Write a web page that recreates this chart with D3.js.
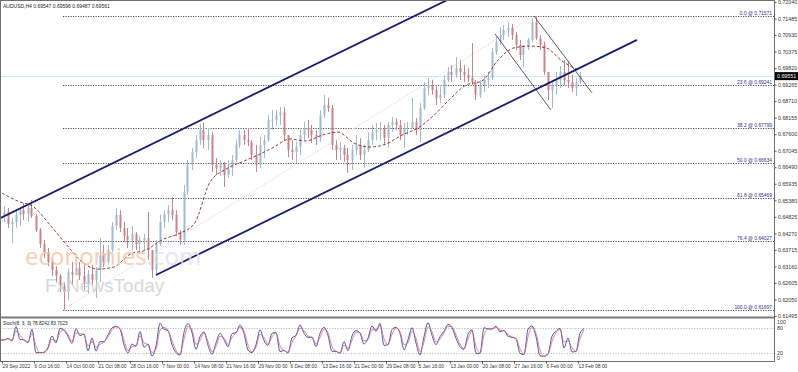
<!DOCTYPE html>
<html><head><meta charset="utf-8">
<script src="https://cdn.jsdelivr.net/npm/d3@7"></script>
<style>html,body{margin:0;padding:0;background:#fff;overflow:hidden}svg{display:block;font-family:"Liberation Sans",Arial,sans-serif}</style>
</head><body><svg id="c" width="798" height="372"></svg>
<script>
// ---------------- DATA ----------------
const symbolTitle = "AUDUSD,H4";
const headerOHLC = [0.69547, 0.69596, 0.69487, 0.69561];
const bidPrice = 0.69551;
const barsPerCandle = 4;           // each drawn candle groups 4 H4 bars
const firstOpen = 0.6489;
const candleHigh = [
0.6519,0.6512,0.6479,0.6505,0.6515,0.6529,0.6525,0.6539,0.6492,0.6445,
0.6405,0.6378,0.6344,0.6317,0.6290,0.6263,0.6310,0.6331,0.6327,0.6331,
0.6321,0.6304,0.6321,0.6314,0.6411,0.6388,0.6388,0.6465,0.6512,0.6505,
0.6465,0.6445,0.6452,0.6431,0.6418,0.6425,0.6499,0.6371,0.6405,0.6489,
0.6505,0.6522,0.6549,0.6505,0.6438,0.6589,0.6673,0.6714,0.6757,0.6794,
0.6798,0.6781,0.6767,0.6680,0.6673,0.6667,0.6673,0.6690,0.6740,0.6774,
0.6774,0.6781,0.6740,0.6724,0.6751,0.6757,0.6824,0.6841,0.6841,0.6851,
0.6851,0.6757,0.6740,0.6734,0.6774,0.6801,0.6808,0.6791,0.6774,0.6841,
0.6892,0.6882,0.6858,0.6740,0.6734,0.6724,0.6714,0.6724,0.6757,0.6747,
0.6724,0.6767,0.6791,0.6798,0.6801,0.6791,0.6801,0.6818,0.6814,0.6808,
0.6798,0.6801,0.6882,0.6814,0.6865,0.6935,0.6949,0.6942,0.6925,0.6919,
0.6959,0.6985,0.6992,0.7019,0.7009,0.6992,0.6982,0.7066,0.6942,0.6942,
0.6956,0.6969,0.7050,0.7087,0.7120,0.7127,0.7137,0.7130,0.7103,0.7077,
0.7060,0.7083,0.7150,0.7157,0.7093,0.7070,0.6969,0.6942,0.6969,0.6989,
0.7009,0.7003,0.6959,0.6949,0.6969];
const candleLow = [
0.6465,0.6445,0.6394,0.6445,0.6452,0.6472,0.6465,0.6479,0.6431,0.6378,
0.6344,0.6317,0.6284,0.6263,0.6230,0.6170,0.6203,0.6253,0.6287,0.6270,
0.6237,0.6226,0.6253,0.6210,0.6263,0.6314,0.6321,0.6364,0.6438,0.6431,
0.6398,0.6378,0.6371,0.6371,0.6364,0.6371,0.6337,0.6277,0.6284,0.6384,
0.6445,0.6465,0.6472,0.6418,0.6388,0.6388,0.6556,0.6640,0.6680,0.6724,
0.6714,0.6707,0.6633,0.6623,0.6620,0.6583,0.6613,0.6620,0.6667,0.6714,
0.6724,0.6720,0.6673,0.6633,0.6646,0.6680,0.6734,0.6774,0.6788,0.6791,
0.6740,0.6683,0.6673,0.6663,0.6690,0.6740,0.6747,0.6730,0.6724,0.6734,
0.6814,0.6834,0.6707,0.6673,0.6673,0.6667,0.6630,0.6640,0.6690,0.6673,
0.6646,0.6700,0.6724,0.6740,0.6740,0.6724,0.6714,0.6767,0.6774,0.6740,
0.6714,0.6757,0.6791,0.6757,0.6734,0.6841,0.6892,0.6892,0.6858,0.6865,
0.6882,0.6935,0.6935,0.6949,0.6942,0.6935,0.6935,0.6925,0.6875,0.6882,
0.6902,0.6915,0.6942,0.7026,0.7060,0.7077,0.7087,0.7077,0.7043,0.7009,
0.6985,0.7043,0.7070,0.7077,0.7043,0.6959,0.6875,0.6848,0.6892,0.6915,
0.6925,0.6915,0.6902,0.6888,0.6929];
const candleClose = [
0.6499,0.6458,0.6465,0.6489,0.6505,0.6492,0.6512,0.6485,0.6438,0.6391,
0.6364,0.6331,0.6304,0.6284,0.6250,0.6230,0.6297,0.6287,0.6310,0.6284,
0.6257,0.6290,0.6270,0.6304,0.6354,0.6331,0.6371,0.6452,0.6489,0.6445,
0.6418,0.6405,0.6425,0.6391,0.6405,0.6411,0.6371,0.6304,0.6391,0.6465,
0.6492,0.6505,0.6489,0.6431,0.6405,0.6566,0.6657,0.6700,0.6740,0.6774,
0.6740,0.6757,0.6657,0.6646,0.6660,0.6623,0.6646,0.6673,0.6724,0.6757,
0.6740,0.6734,0.6690,0.6657,0.6724,0.6740,0.6808,0.6808,0.6824,0.6834,
0.6757,0.6707,0.6700,0.6717,0.6757,0.6781,0.6774,0.6757,0.6747,0.6824,
0.6858,0.6848,0.6724,0.6707,0.6714,0.6690,0.6673,0.6707,0.6724,0.6690,
0.6707,0.6740,0.6767,0.6774,0.6781,0.6747,0.6791,0.6801,0.6791,0.6757,
0.6781,0.6781,0.6801,0.6774,0.6848,0.6915,0.6925,0.6909,0.6882,0.6892,
0.6942,0.6969,0.6959,0.6982,0.6969,0.6959,0.6949,0.6935,0.6892,0.6925,
0.6942,0.6949,0.7036,0.7070,0.7093,0.7110,0.7117,0.7093,0.7060,0.7026,
0.7056,0.7077,0.7137,0.7083,0.7060,0.6969,0.6909,0.6925,0.6942,0.6969,
0.6942,0.6935,0.6915,0.6935,0.6956];
const maStep = 16;                 // moving average read every 16 bars
const maValues = [
0.6562,0.6535,0.6515,0.6455,0.6391,0.6331,0.6307,0.6314,0.6357,0.6371,
0.6405,0.6425,0.6458,0.6599,0.6643,0.6667,0.6690,0.6717,0.6744,0.6737,
0.6757,0.6767,0.6730,0.6717,0.6727,0.6757,0.6781,0.6824,0.6878,0.6925,
0.6939,0.7009,0.7050,0.7056,0.7050,0.7006,0.6976];
const priceTicks = [0.72040,0.71485,0.70930,0.70375,0.69820,0.69265,0.68710,0.68155,0.67600,0.67045,
0.66490,0.65935,0.65380,0.64825,0.64270,0.63715,0.63160,0.62605,0.62050,0.61495];
const timeLabelStep = 32;
const timeLabels = ["29 Sep 2022","6 Oct 16:00","14 Oct 00:00","21 Oct 08:00","28 Oct 16:00","7 Nov 00:00",
"14 Nov 08:00","21 Nov 16:00","29 Nov 00:00","6 Dec 08:00","13 Dec 16:00","21 Dec 00:00","29 Dec 08:00",
"5 Jan 16:00","13 Jan 00:00","20 Jan 08:00","27 Jan 16:00","6 Feb 00:00","13 Feb 08:00"];
const fibLevels = [0, 23.6, 38.2, 50, 61.8, 76.4, 100];
const fibHigh = 0.71571, fibHighBar = 532;
const fibLow = 0.61697, fibLowBar = 61;
const upperChannel = [[-2, 0.6478], [446, 0.7212]];
const lowerChannel = [[154, 0.6287], [635, 0.7077]];
const downLineA = [[532, 0.7157], [590, 0.6899]];
const downLineB = [[493, 0.7097], [549, 0.6841]];
const stochStep = 4;
const stochMain = [
51.6,51.6,55.6,49.2,83.6,53.2,51.6,45.2,77.2,21.2,21.2,22.0,34.0,61.2,44.4,79.6,74.8,60.4,43.6,78.8,
62.0,66.0,25.2,56.4,25.2,47.6,47.6,64.4,80.4,84.4,77.2,39.6,20.4,42.0,36.4,71.6,34.0,42.0,13.2,37.2,
91.6,77.2,74.0,40.4,21.2,15.6,70.0,90.8,69.2,29.2,59.6,70.8,38.8,17.2,44.4,67.6,52.4,35.6,66.8,69.2,
87.6,66.8,27.6,21.2,40.4,75.6,50.0,38.8,67.6,69.2,23.6,26.8,20.4,56.4,62.8,87.6,67.6,58.0,58.0,35.6,
67.6,82.0,62.8,24.4,24.4,19.6,47.6,26.0,61.2,74.0,67.6,42.0,56.4,85.2,72.4,91.6,38.8,40.4,76.4,82.0,
67.6,28.4,52.4,81.2,44.4,15.6,59.6,93.2,62.8,40.4,59.6,72.4,89.2,81.2,55.6,35.6,29.2,65.2,75.6,19.6,
19.6,81.2,78.0,78.0,84.4,71.6,74.8,60.4,58.0,54.8,19.6,16.4,77.2,85.2,59.6,14.0,12.4,18.8,60.4,72.4,
79.6,32.4,56.4,22.8,24.4,67.6,78.8];
const stochLevels = [20, 80];
const stochAxisLabels = [100, 80, 20, 0];
const stochTitle = "Stoch(8, 3, 3) 78.8242 83.7023";

// ---------------- LAYOUT ----------------
const svg = d3.select('#c');
const axisX = 774, mainBottom = 317, stTop = 319, stBottom = 361;
const x = d3.scaleLinear().domain([0, 772]).range([2, 774]);
const y = d3.scaleLinear().domain([0.61460, 0.72108]).range([mainBottom, 0]);
const ys = d3.scaleLinear().domain([0, 100]).range([361.5, 319.8]);
const bull = '#a2bacb', bear = '#c8848b';

svg.append('rect').attr('width', 798).attr('height', 372).attr('fill', '#fff');
const defs = svg.append('defs');
defs.append('clipPath').attr('id', 'cm').append('rect').attr('x', 1).attr('y', 1).attr('width', axisX - 1).attr('height', mainBottom - 1);
defs.append('clipPath').attr('id', 'cs').append('rect').attr('x', 1).attr('y', stTop).attr('width', axisX - 1).attr('height', stBottom - stTop);

const gm = svg.append('g').attr('clip-path', 'url(#cm)');

// bid line
gm.append('line').attr('x1', 0).attr('x2', axisX).attr('y1', Math.round(y(bidPrice)) + 0.5).attr('y2', Math.round(y(bidPrice)) + 0.5)
  .attr('stroke', '#cfe6ee').attr('stroke-width', 1);

// fibonacci levels
const fibPrice = lv => fibHigh - (fibHigh - fibLow) * lv / 100;
fibLevels.forEach(lv => {
  const yy = Math.round(y(fibPrice(lv))) + 0.5;
  gm.append('line').attr('x1', x(fibLowBar)).attr('x2', axisX).attr('y1', yy).attr('y2', yy)
    .attr('stroke', '#3a3a3a').attr('stroke-width', 0.9).attr('stroke-dasharray', '1.2,1.3');
  gm.append('text').attr('x', axisX - 2).attr('y', yy - 1.6).attr('text-anchor', 'end')
    .attr('font-size', 4.9).attr('fill', '#2b2f8a').text(`${lv.toFixed(1)} @ ${fibPrice(lv).toFixed(5)}`);
});
// fibonacci anchor diagonal
gm.append('line').attr('x1', x(fibLowBar)).attr('y1', y(fibLow)).attr('x2', x(fibHighBar)).attr('y2', y(fibHigh))
  .attr('stroke', '#e2d4dc').attr('stroke-width', 1).attr('stroke-dasharray', '1.5,1.5');

// candles
const candles = candleClose.map((c, i) => {
  const o = i === 0 ? firstOpen : candleClose[i - 1];
  return { i, o, c, h: Math.max(candleHigh[i], o, c), l: Math.min(candleLow[i], o, c) };
});
const cx = d => Math.round(x(d.i * barsPerCandle + 1.5));
gm.selectAll('.wick').data(candles).join('line')
  .attr('x1', d => cx(d) + 0.5).attr('x2', d => cx(d) + 0.5)
  .attr('y1', d => y(d.h)).attr('y2', d => y(d.l))
  .attr('stroke', d => d.c >= d.o ? bull : bear).attr('stroke-width', 1);
gm.selectAll('.body').data(candles).join('rect')
  .attr('x', d => cx(d) - 0.5).attr('width', 2)
  .attr('y', d => y(Math.max(d.o, d.c))).attr('height', d => Math.max(1, Math.abs(y(d.o) - y(d.c))))
  .attr('fill', d => d.c >= d.o ? bull : bear);

// moving average
gm.append('path').datum(maValues).attr('fill', 'none').attr('stroke', '#7b2c2c').attr('stroke-width', 0.9)
  .attr('stroke-dasharray', '3,2')
  .attr('d', d3.line().x((d, i) => x(i * maStep)).y(d => y(d)).curve(d3.curveMonotoneX));

// trend lines
const tl = (pts, w, col) => gm.append('line')
  .attr('x1', x(pts[0][0])).attr('y1', y(pts[0][1])).attr('x2', x(pts[1][0])).attr('y2', y(pts[1][1]))
  .attr('stroke', col).attr('stroke-width', w);
tl(upperChannel, 1.8, '#1b1b6b');
tl(lowerChannel, 1.8, '#1b1b6b');
tl(downLineA, 0.8, '#2a2a55');
tl(downLineB, 0.8, '#2a2a55');

// watermark
const wm = svg.append('g').attr('opacity', 0.8);
const t1 = wm.append('text').attr('x', 25).attr('y', 265).attr('font-size', 24).attr('font-family', '"Open Sans","Liberation Sans",sans-serif');
t1.append('tspan').attr('fill', '#f4c29e').text('economies');
t1.append('tspan').attr('fill', '#dde1e8').text('.com');
wm.append('text').attr('x', 45).attr('y', 292).attr('font-size', 19).attr('fill', '#cfcfcf')
  .attr('font-family', '"Liberation Sans",sans-serif').text('FxNewsToday');

// title
svg.append('text').attr('x', 3).attr('y', 8).attr('font-size', 5).attr('fill', '#222')
  .text(`${symbolTitle}  ${headerOHLC.map(v => v.toFixed(5)).join(' ')}`);

// stochastic panel
const gs = svg.append('g').attr('clip-path', 'url(#cs)');
stochLevels.forEach(lv => {
  gs.append('line').attr('x1', 0).attr('x2', axisX).attr('y1', Math.round(ys(lv)) + 0.5).attr('y2', Math.round(ys(lv)) + 0.5)
    .attr('stroke', '#a8a8a8').attr('stroke-width', 0.8).attr('stroke-dasharray', '1.2,1.5');
});
const stX = (d, i) => x(i * stochStep - 2);
const stochSignal = stochMain.map((v, i) => i === 0 ? v : 0.7 * v + 0.3 * stochMain[i - 1]);
gs.append('path').datum(stochMain).attr('fill', 'none').attr('stroke', '#40449a').attr('stroke-width', 0.9)
  .attr('d', d3.line().x(stX).y(d => ys(d)).curve(d3.curveMonotoneX));
gs.append('path').datum(stochSignal).attr('fill', 'none').attr('stroke', '#d2687e').attr('stroke-width', 0.8)
  .attr('d', d3.line().x(stX).y(d => ys(d)).curve(d3.curveMonotoneX));
svg.append('text').attr('x', 3).attr('y', 325).attr('font-size', 4.7).attr('fill', '#222').text(stochTitle);

// frames
svg.append('rect').attr('x', 0.5).attr('y', 0.5).attr('width', axisX).attr('height', stBottom).attr('fill', 'none').attr('stroke', '#6e6e6e').attr('stroke-width', 1);
svg.append('line').attr('x1', 0).attr('x2', axisX + 0.5).attr('y1', mainBottom + 0.5).attr('y2', mainBottom + 0.5).attr('stroke', '#7a7a7a').attr('stroke-width', 2);

// price axis
const pa = svg.append('g').attr('transform', `translate(${axisX + 0.5},0)`)
  .call(d3.axisRight(y).tickValues(priceTicks).tickFormat(d3.format('.5f')).tickSize(2).tickPadding(1.5));
pa.select('.domain').remove();
pa.selectAll('line').attr('stroke', '#555');
pa.selectAll('text').attr('font-size', 5.3).attr('fill', '#333').attr('font-family', '"Liberation Sans",sans-serif');

// bid box
const by = y(bidPrice);
svg.append('rect').attr('x', axisX + 1).attr('y', by - 4).attr('width', 24).attr('height', 8).attr('fill', '#000');
svg.append('text').attr('x', axisX + 3).attr('y', by + 2).attr('font-size', 5.3).attr('fill', '#fff').text(bidPrice.toFixed(5));

// stochastic axis labels
const sOff = { 100: 2.2, 80: 0.5, 20: 0, 0: -3.5 };
stochAxisLabels.forEach(v => {
  svg.append('text').attr('x', axisX + 3).attr('y', ys(v) + sOff[v] + 1.8).attr('font-size', 5.3).attr('fill', '#333').text(v);
});

// time axis
const ta = svg.append('g');
timeLabels.forEach((t, k) => {
  const xx = Math.round(x(k * timeLabelStep)) + 0.5;
  ta.append('line').attr('x1', xx).attr('x2', xx).attr('y1', stBottom).attr('y2', stBottom + 2.5).attr('stroke', '#555').attr('stroke-width', 1);
  ta.append('text').attr('x', xx).attr('y', 368).attr('font-size', 4.9).attr('fill', '#333').text(t);
});
</script></body></html>
